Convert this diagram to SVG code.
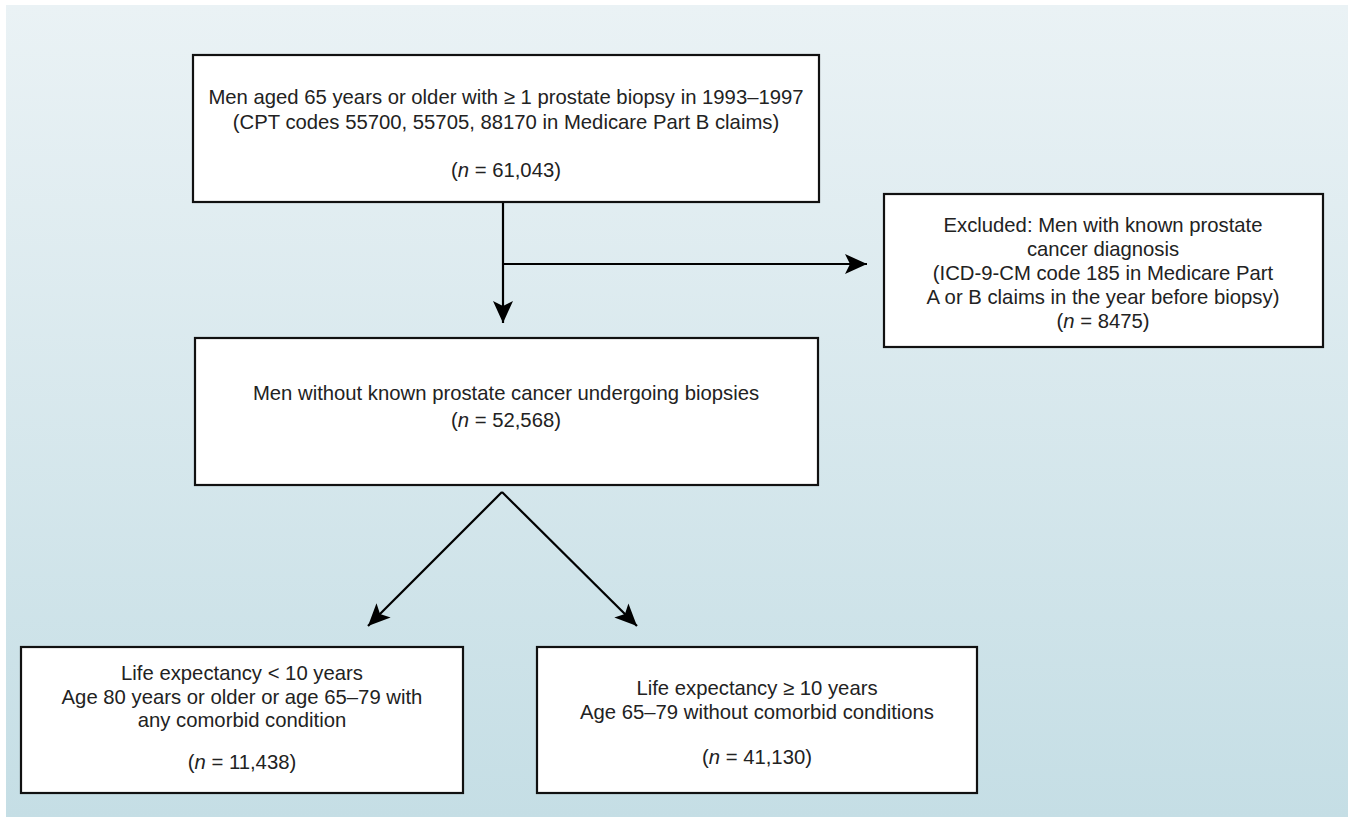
<svg xmlns="http://www.w3.org/2000/svg" width="1348" height="817" viewBox="0 0 1348 817">
<style>
.box{fill:#fff;stroke:#111;stroke-width:2.2}
.t{font-family:"Liberation Sans",Arial,sans-serif;font-size:20.3px;fill:#222;text-anchor:middle}
.i{font-style:italic}
.c{stroke:#000;stroke-width:2.2;fill:none}
</style>
<defs>
<linearGradient id="bg" x1="0" y1="0" x2="0" y2="1">
<stop offset="0" stop-color="#EAF2F5"/>
<stop offset="1" stop-color="#C5DEE5"/>
</linearGradient>
<marker id="ah" viewBox="0 0 22 20" refX="22" refY="10" markerWidth="22" markerHeight="20" markerUnits="userSpaceOnUse" orient="auto">
<path d="M0,0 L22,10 L0,20 L5,10 z" fill="#000"/>
</marker>
</defs>
<rect x="0" y="0" width="1348" height="817" fill="#fff"/>
<rect x="6" y="5" width="1342" height="812" fill="url(#bg)"/>
<g id="connectors">
<path class="c" d="M503,202 L503,323" marker-end="url(#ah)"/>
<path class="c" d="M503,264 L867,264" marker-end="url(#ah)"/>
<path class="c" d="M502,492 L368,626" marker-end="url(#ah)"/>
<path class="c" d="M502,492 L637,626" marker-end="url(#ah)"/>
</g>
<g id="n1">
<rect class="box" x="193" y="55" width="626" height="147"/>
<text class="t" x="506" y="104">Men aged 65 years or older with ≥ 1 prostate biopsy in 1993–1997</text>
<text class="t" x="506" y="129">(CPT codes 55700, 55705, 88170 in Medicare Part B claims)</text>
<text class="t" x="506" y="177">(<tspan class="i">n</tspan> = 61,043)</text>
</g>
<g id="n2">
<rect class="box" x="884" y="194" width="439" height="153"/>
<text class="t" x="1103" y="232">Excluded: Men with known prostate</text>
<text class="t" x="1103" y="256">cancer diagnosis</text>
<text class="t" x="1103" y="280">(ICD-9-CM code 185 in Medicare Part</text>
<text class="t" x="1103" y="304">A or B claims in the year before biopsy)</text>
<text class="t" x="1103" y="328">(<tspan class="i">n</tspan> = 8475)</text>
</g>
<g id="n3">
<rect class="box" x="195" y="338" width="623" height="147"/>
<text class="t" x="506" y="400">Men without known prostate cancer undergoing biopsies</text>
<text class="t" x="506" y="427">(<tspan class="i">n</tspan> = 52,568)</text>
</g>
<g id="n4">
<rect class="box" x="21" y="647" width="442" height="146"/>
<text class="t" x="242" y="680">Life expectancy &lt; 10 years</text>
<text class="t" x="242" y="704">Age 80 years or older or age 65–79 with</text>
<text class="t" x="242" y="727">any comorbid condition</text>
<text class="t" x="242" y="769">(<tspan class="i">n</tspan> = 11,438)</text>
</g>
<g id="n5">
<rect class="box" x="537" y="647" width="440" height="146"/>
<text class="t" x="757" y="695">Life expectancy ≥ 10 years</text>
<text class="t" x="757" y="719">Age 65–79 without comorbid conditions</text>
<text class="t" x="757" y="764">(<tspan class="i">n</tspan> = 41,130)</text>
</g>
</svg>
